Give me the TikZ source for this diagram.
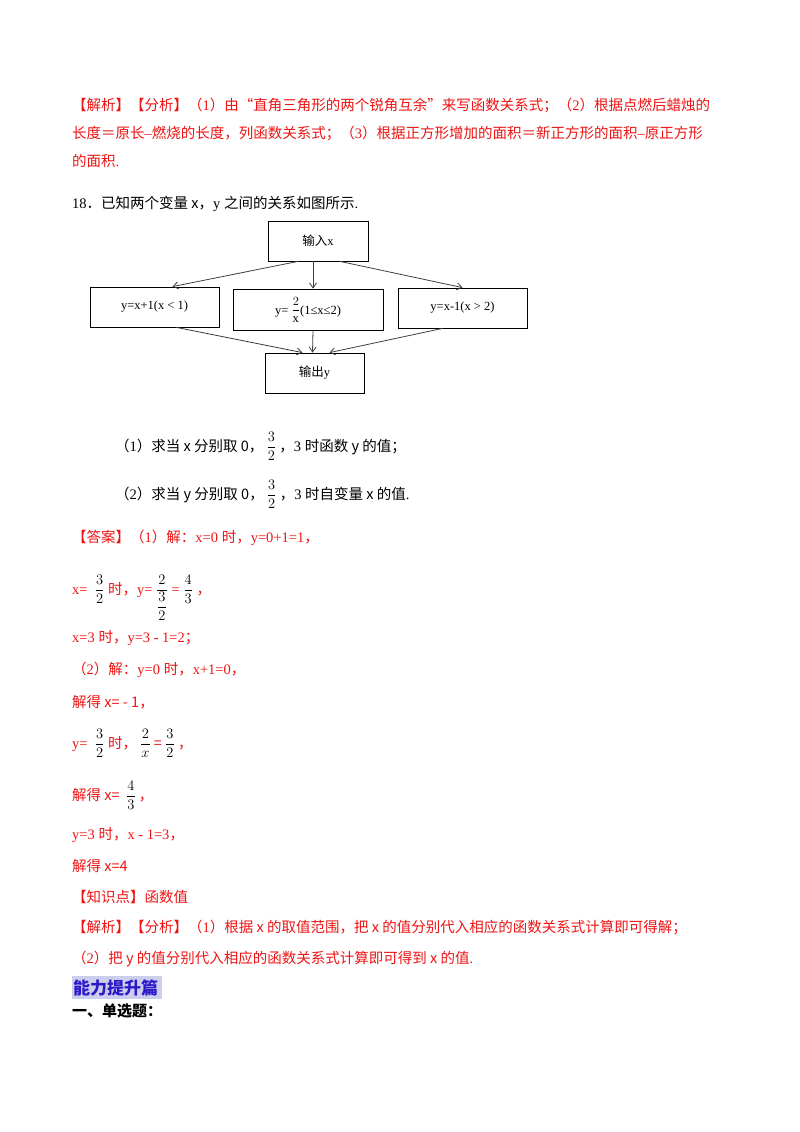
\RequirePackage{fix-cm}
\documentclass[tikz,border=0pt]{standalone}
\usepackage{fontspec}
\setmainfont{Liberation Serif}
\newfontfamily\cjk{Noto Sans CJK SC}
\usetikzlibrary{arrows.meta}
\XeTeXinterchartokenstate=1
\newXeTeXintercharclass\CJKcls
\count255="4E00
\loop \XeTeXcharclass\count255=\CJKcls \ifnum\count255<"9FFF \advance\count255 1 \repeat
\count255="3000
\loop \XeTeXcharclass\count255=\CJKcls \ifnum\count255<"303F \advance\count255 1 \repeat
\count255="FF00
\loop \XeTeXcharclass\count255=\CJKcls \ifnum\count255<"FFEF \advance\count255 1 \repeat
\XeTeXcharclass"201C=\CJKcls
\XeTeXcharclass"201D=\CJKcls
\XeTeXinterchartoks 0 \CJKcls = {\cjk}
\XeTeXinterchartoks 4095 \CJKcls = {\cjk}
\XeTeXinterchartoks \CJKcls 0 = {\rmfamily}
\definecolor{ans}{RGB}{238,20,20}
\definecolor{hlb}{RGB}{45,25,200}
\definecolor{hlbg}{RGB}{205,205,238}
\newcommand{\bfr}[2]{\textcolor{black}{$\displaystyle\frac{#1}{#2}$}}
\begin{document}
\begin{tikzpicture}[x=1pt,y=-1pt,
  txt/.style={anchor=base west,inner sep=0pt,font=\fontsize{14.5}{18}\selectfont},
  rtxt/.style={txt,text=ans},
  fbox/.style={draw,line width=0.8pt,minimum height=40pt,inner sep=0pt,font=\fontsize{12.5}{15}\selectfont},
  arr/.style={draw=black!75,line width=0.8pt,-{Straight Barb[length=5pt,width=7pt]}}]
\useasboundingbox (0,0) rectangle (800,1132);
\fill[white] (0,0) rectangle (800,1132);
\node[rtxt] (l1) at (72,110) {【解析】【分析】（1）由“直角三角形的两个锐角互余”来写函数关系式；（2）根据点燃后蜡烛的};
\node[rtxt] (l2) at (72,138) {长度＝原长–燃烧的长度，列函数关系式；（3）根据正方形增加的面积＝新正方形的面积–原正方形};
\node[rtxt] (l3) at (72,166) {的面积.};
\node[txt] (q18) at (72,208) {18．已知两个变量 x，y 之间的关系如图所示.};
% flowchart
\node[fbox,minimum width=100pt] (in) at (318,241) {输入x};
\node[fbox,minimum width=129pt] (b1) at (154.5,307) {y=x+1(x < 1)};
\node[fbox,minimum width=150pt,minimum height=41pt] (b2) at (308,309.5) {y= \raisebox{1pt}{$\displaystyle\frac{2}{\mathrm{x}}$}(1≤x≤2)};
\node[fbox,minimum width=129pt] (b3) at (462.5,308) {y=x-1(x > 2)};
\node[fbox,minimum width=99pt] (out) at (314.5,373) {输出y};
\draw[arr] ([xshift=-20pt]in.south) -- ([xshift=18pt]b1.north);
\draw[arr] ([xshift=-5pt]in.south) -- ([xshift=5pt]b2.north);
\draw[arr] ([xshift=22pt]in.south) -- (b3.north);
\draw[arr] ([xshift=22pt]b1.south) -- ([xshift=-12pt]out.north);
\draw[arr] ([xshift=5pt]b2.south) -- ([xshift=-2pt]out.north);
\draw[arr] ([xshift=-20pt]b3.south) -- ([xshift=15pt]out.north);
\node[txt] (p1) at (115,451) {（1）求当 x 分别取 0，\ \bfr{3}{2} ，3 时函数 y 的值；};
\node[txt] (p2) at (115,499) {（2）求当 y 分别取 0，\ \bfr{3}{2} ，3 时自变量 x 的值.};
\node[rtxt] (a1) at (72,542) {【答案】（1）解：x=0 时，y=0+1=1，};
\node[rtxt] (a2) at (72,594) {x= \ \bfr{3}{2}\ 时，y= \bfr{2}{\displaystyle\frac{3}{2}} = \bfr{4}{3} ，};
\node[rtxt] (a3) at (72,642) {x=3 时，y=3 - 1=2；};
\node[rtxt] (a4) at (72,674) {（2）解：y=0 时，x+1=0，};
\node[rtxt] (a5) at (72,707) {解得 x= - 1，};
\node[rtxt] (a6) at (72,748) {y= \ \bfr{3}{2}\ 时，\ \bfr{2}{x} = \bfr{3}{2} ，};
\node[rtxt] (a7) at (72,800) {解得 x= \ \bfr{4}{3} ，};
\node[rtxt] (a8) at (72,839) {y=3 时，x - 1=3，};
\node[rtxt] (a9) at (72,871) {解得 x=4};
\node[rtxt] (k1) at (72,902) {【知识点】函数值};
\node[rtxt] (k2) at (72,932) {【解析】【分析】（1）根据 x 的取值范围，把 x 的值分别代入相应的函数关系式计算即可得解；};
\node[rtxt] (k3) at (72,963) {（2）把 y 的值分别代入相应的函数关系式计算即可得到 x 的值.};
\fill[hlbg] (72,976) rectangle (162,999);
\node[txt,text=hlb,font=\fontsize{17}{20}\selectfont\bfseries] (h1) at (73,994) {能力提升篇};
\node[txt,font=\fontsize{15}{18}\selectfont\bfseries] (h2) at (72,1016) {一、单选题：};
\end{tikzpicture}
\end{document}
